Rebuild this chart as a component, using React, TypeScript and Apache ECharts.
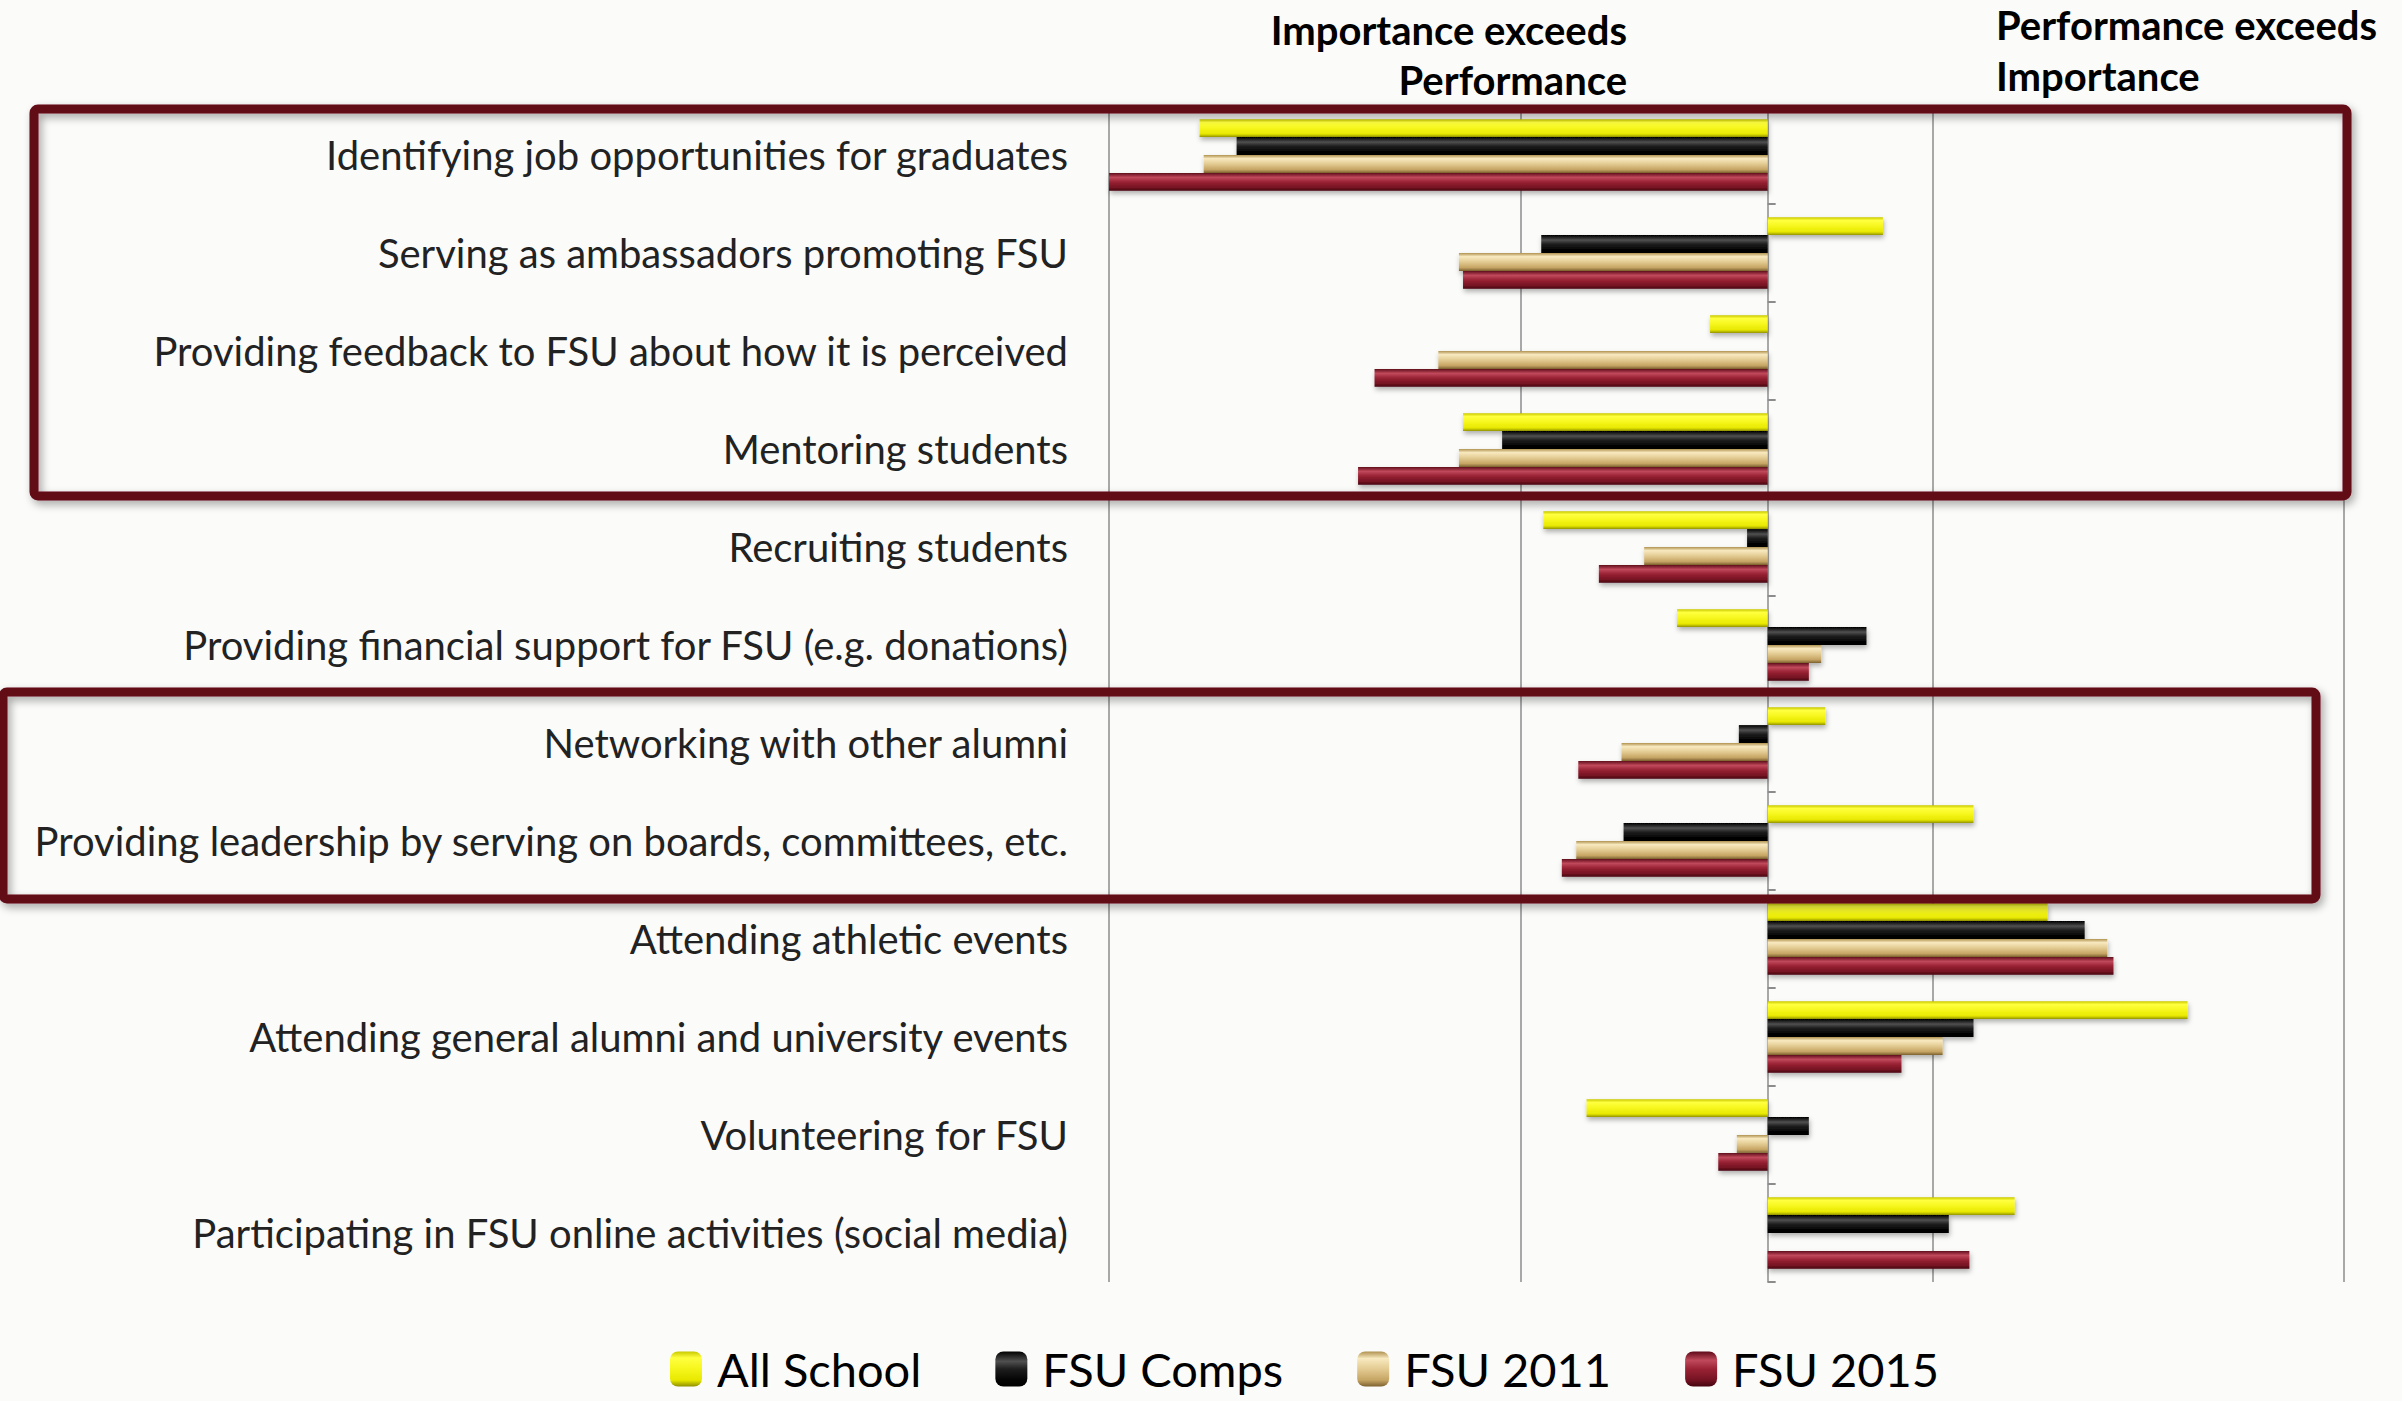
import React, { useEffect, useRef } from "react";
import * as echarts from "echarts";

const categories = [
  "Identifying job opportunities for graduates",
  "Serving as ambassadors promoting FSU",
  "Providing feedback to FSU about how it is perceived",
  "Mentoring students",
  "Recruiting students",
  "Providing financial support for FSU (e.g. donations)",
  "Networking with other alumni",
  "Providing leadership by serving on boards, committees, etc.",
  "Attending athletic events",
  "Attending general alumni and university events",
  "Volunteering for FSU",
  "Participating in FSU online activities (social media)",
];

const seriesNames = ["All School", "FSU Comps", "FSU 2011", "FSU 2015"];

const allSchool = [-1.38, 0.28, -0.14, -0.74, -0.545, -0.22, 0.14, 0.5, 0.68, 1.02, -0.44, 0.6];
const fsuComps = [-1.29, -0.55, null, -0.645, -0.05, 0.24, -0.07, -0.35, 0.77, 0.5, 0.1, 0.44];
const fsu2011 = [-1.37, -0.75, -0.8, -0.75, -0.3, 0.13, -0.355, -0.465, 0.825, 0.425, -0.075, null];
const fsu2015 = [-1.6, -0.74, -0.955, -0.995, -0.41, 0.1, -0.46, -0.5, 0.84, 0.325, -0.12, 0.49];

const headerLeft = ["Importance exceeds", "Performance"];
const headerRight = ["Performance exceeds", "Importance"];

function grad(stops: [number, string][]) {
  return new echarts.graphic.LinearGradient(
    0, 0, 0, 1,
    stops.map(([offset, color]) => ({ offset, color }))
  );
}

const palettes: [number, string][][] = [
  [[0, "#c9c900"], [0.18, "#ffff40"], [0.5, "#f6f61c"], [0.82, "#e8e800"], [1, "#8f8f00"]],
  [[0, "#000000"], [0.28, "#505050"], [0.5, "#1e1e1e"], [0.8, "#050505"], [1, "#000000"]],
  [[0, "#b0924f"], [0.2, "#f8e9bf"], [0.5, "#e3cb92"], [0.82, "#c5a463"], [1, "#7e6230"]],
  [[0, "#5e0a18"], [0.25, "#c04a5b"], [0.5, "#9a2234"], [0.82, "#741222"], [1, "#45050f"]],
];

export default function App() {
  const ref = useRef<HTMLDivElement>(null);
  useEffect(() => {
    document.body.style.margin = "0";
    const chart = echarts.init(ref.current!, undefined, { renderer: "svg" });
    const data = [allSchool, fsuComps, fsu2011, fsu2015];
    const series = data.map((d, i) => ({
      name: seriesNames[i],
      type: "bar",
      xAxisIndex: 0,
      yAxisIndex: 0,
      data: d,
      barGap: "0%",
      barCategoryGap: "27%",
      itemStyle: {
        color: grad(palettes[i]),
        shadowBlur: 5,
        shadowOffsetY: 3,
        shadowOffsetX: 1,
        shadowColor: "rgba(0,0,0,0.3)",
      },
    }));
    const boxStyle = {
      fill: "rgba(0,0,0,0)",
      stroke: "#620a18",
      lineWidth: 9,
      shadowBlur: 8,
      shadowOffsetX: 3,
      shadowOffsetY: 4,
      shadowColor: "rgba(0,0,0,0.35)",
    };
    const hdrFont = { fontFamily: "Lato", fontWeight: "bold", fontSize: 40, fill: "#000" };
    chart.setOption({
      animation: false,
      backgroundColor: "#fbfbf9",
      grid: { left: 1109, right: 58, top: 106, bottom: 119, containLabel: false },
      xAxis: [
        {
          type: "value",
          min: -1.6,
          max: 1.4,
          axisLine: { show: false },
          axisTick: { show: false },
          axisLabel: { show: false },
          splitLine: { show: false },
        },
        {
          type: "value",
          min: -2,
          max: 1,
          interval: 1,
          position: "bottom",
          axisLine: { show: false },
          axisTick: { show: false },
          axisLabel: { show: false },
          splitLine: { show: true, lineStyle: { color: "#8c8c8c", width: 1.5 } },
        },
      ],
      yAxis: [
        {
          type: "category",
          data: categories,
          inverse: true,
          position: "left",
          axisLine: { show: false, onZero: false },
          axisTick: { show: false },
          splitLine: { show: false },
          axisLabel: { fontFamily: "Lato", fontSize: 40, color: "#222", margin: 41 },
        },
        {
          type: "category",
          data: categories,
          inverse: true,
          position: "left",
          axisLine: { show: true, onZero: true, onZeroAxisIndex: 0, lineStyle: { color: "#8c8c8c", width: 1.5 } },
          axisTick: { show: true, inside: true, length: 8, lineStyle: { color: "#8c8c8c", width: 2 } },
          axisLabel: { show: false },
          splitLine: { show: false },
        },
      ],
      legend: {
        data: seriesNames,
        left: 665,
        top: 1340,
        itemWidth: 32,
        itemHeight: 35,
        itemGap: 74,
        textStyle: { fontFamily: "Lato", fontSize: 47, lineHeight: 48, color: "#000", padding: [0, 0, 0, 10] },
      },
      graphic: [
        { type: "rect", shape: { x: 34, y: 109, width: 2313, height: 387, r: 4 }, style: boxStyle, z: 100 },
        { type: "rect", shape: { x: 3, y: 692, width: 2313, height: 207, r: 4 }, style: boxStyle, z: 100 },
        { type: "text", x: 1627, y: 30, style: { ...hdrFont, text: headerLeft[0], textAlign: "right", textVerticalAlign: "middle" } },
        { type: "text", x: 1627, y: 80, style: { ...hdrFont, text: headerLeft[1], textAlign: "right", textVerticalAlign: "middle" } },
        { type: "text", x: 1996, y: 25, style: { ...hdrFont, text: headerRight[0], textAlign: "left", textVerticalAlign: "middle" } },
        { type: "text", x: 1996, y: 76, style: { ...hdrFont, text: headerRight[1], textAlign: "left", textVerticalAlign: "middle" } },
      ],
      series,
    });
    return () => chart.dispose();
  }, []);
  return <div ref={ref} style={{ width: 2402, height: 1401 }} />;
}
